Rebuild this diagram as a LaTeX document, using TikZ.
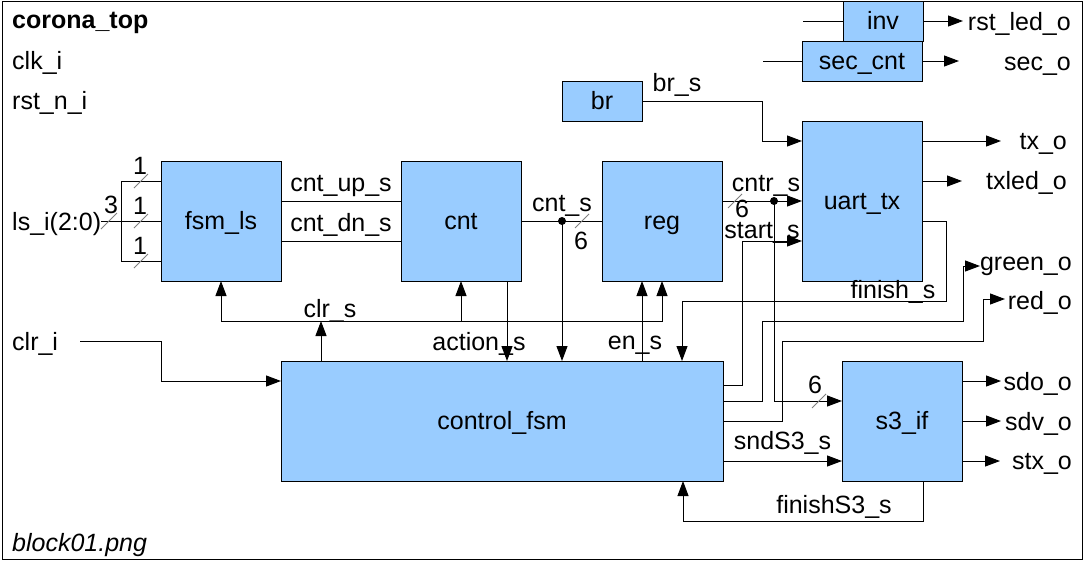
\documentclass[tikz,border=0pt]{standalone}
\usepackage{fontspec}
\setmainfont{Liberation Sans}
\usepackage{tikz}
\usetikzlibrary{arrows.meta, positioning, calc}
\definecolor{blkblue}{HTML}{99CCFF}
\newcommand{\diagfont}{\fontsize{25}{29}\selectfont}

\begin{document}
\begin{tikzpicture}[
  x=1pt, y=-1pt,
  block/.style={draw, fill=blkblue, line width=1pt, inner sep=0pt, outer sep=0pt,
    minimum width=120pt, minimum height=120pt, font=\diagfont,
    text height=17pt, text depth=0pt},
  lbl/.style={inner sep=0pt, font=\diagfont, anchor=base},
  wire/.style={line width=1pt},
  sig/.style={wire, -{Triangle[length=15pt, width=11pt]}},
  tick/.style={draw=gray, line width=0.8pt},
  node distance=120pt
]
\useasboundingbox (0,0) rectangle (1084,562);
\fill[white] (0,0) rectangle (1084,562);
\draw[line width=1pt] (2,1) rectangle (1082,559);

\node[block] (fsmls) at (221,221) {fsm\_ls};
\node[block, right=of fsmls] (cnt) {cnt};
\node[block, right=81pt of cnt] (reg) {reg};
\node[block, minimum height=160pt] (uart) at (862,201) {uart\_tx};
\node[block, minimum width=442pt] (control) at (502,421) {control\_fsm};
\node[block, right=119pt of control] (s3) {s3\_if};
\node[block, minimum width=80pt, minimum height=40pt] (br) at (602,101) {br};
\node[block, minimum width=80pt, minimum height=40pt] (inv) at (883,21) {inv};
\node[block, minimum height=40pt] (seccnt) at (862,61) {sec\_cnt};

\node[lbl, anchor=base west, font=\diagfont\bfseries] (title) at (12,28) {corona\_top};
\node[lbl, anchor=base west] (clki) at (12,69) {clk\_i};
\node[lbl, anchor=base west] (rstni) at (12,109) {rst\_n\_i};
\node[lbl, anchor=base west] (lsi) at (12,230) {ls\_i(2:0)};
\node[lbl, anchor=base west] (clri) at (12,350) {clr\_i};
\node[lbl, anchor=base west, font=\diagfont\itshape] (fname) at (12,551) {block01.png};

\node[lbl, anchor=base east] (orst) at (1071,30) {rst\_led\_o};
\node[lbl, anchor=base east] (osec) at (1071,70) {sec\_o};
\node[lbl, anchor=base east] (otx) at (1067,149) {tx\_o};
\node[lbl, anchor=base east] (otxled) at (1067,189) {txled\_o};
\node[lbl, anchor=base east] (ogreen) at (1072,270) {green\_o};
\node[lbl, anchor=base east] (ored) at (1072,309) {red\_o};
\node[lbl, anchor=base east] (osdo) at (1072,390) {sdo\_o};
\node[lbl, anchor=base east] (osdv) at (1072,430) {sdv\_o};
\node[lbl, anchor=base east] (ostx) at (1072,469) {stx\_o};

\coordinate (lsin) at (101,221);
\coordinate (clrin) at (80,341);
\coordinate (invin) at (803,21);
\coordinate (secin) at (763,61);
\coordinate (rsttip) at (963,21);
\coordinate (sectip) at (959,61);
\coordinate (txtip) at (1001,141);
\coordinate (txledtip) at (962,181);
\coordinate (greentip) at (980,266);
\coordinate (redtip) at (1005,299);
\coordinate (sdotip) at (1001,381);
\coordinate (sdvtip) at (1001,421);
\coordinate (stxtip) at (1000,461);
\coordinate (cntdot) at ([xshift=41pt]cnt.east);
\coordinate (cntrsrc) at (reg.east |- uart.west);
\coordinate (cntrdot) at ([xshift=-28pt]uart.west);
\coordinate (clrbus) at ([xshift=-181pt,yshift=40pt]control.north);
\coordinate (actsrc) at ([xshift=46pt]cnt.south);
\coordinate (ensink) at ([xshift=-20pt]reg.south);

\draw[wire] (lsin) -- (fsmls.west);
\draw[wire] ([yshift=40pt]fsmls.west) -| ([xshift=-40pt,yshift=-40pt]fsmls.west)
  -- ([yshift=-40pt]fsmls.west);
\draw[tick] ([xshift=8pt]lsin) ++(-8,8) -- ++(16,-16);
\node[lbl] (w3) at (111,213) {3};
\foreach \dy/\nm in {40/a, 0/b, -40/c} {
  \draw[tick] ([xshift=-20pt,yshift=\dy pt]fsmls.west) ++(-7,7) -- ++(14,-14);
  \node[lbl, yshift=7pt] (w1\nm) at ([xshift=-21pt,yshift=\dy pt]fsmls.west) {1};
}

\draw[wire] ([yshift=20pt]fsmls.east) -- ([yshift=20pt]cnt.west)
  node[lbl, midway, yshift=10pt] (lcntup) {cnt\_up\_s};
\draw[wire] ([yshift=-20pt]fsmls.east) -- ([yshift=-20pt]cnt.west)
  node[lbl, midway, yshift=10pt] (lcntdn) {cnt\_dn\_s};

\draw[wire] (cnt.east) -- (reg.west);
\fill (cntdot) circle (4);
\draw[sig] (cntdot) -- (cntdot |- control.north);
\node[lbl, yshift=10pt] (lcnts) at (cntdot) {cnt\_s};
\draw[tick] ([xshift=20pt]cntdot) ++(-7,7) -- ++(14,-14);
\node[lbl] (wcnt) at ([xshift=19pt,yshift=-28pt]cntdot) {6};

\draw[sig] (cntrsrc) -- (uart.west)
  node[lbl, midway, xshift=4pt, yshift=10pt] (lcntrs) {cntr\_s};
\fill (cntrdot) circle (4);
\draw[sig] (cntrdot) |- ([yshift=20pt]s3.west);
\draw[tick] ([xshift=13pt]cntrsrc) ++(-7,7) -- ++(14,-14);
\node[lbl] (wcntr) at ([xshift=20pt,yshift=-16pt]cntrsrc) {6};
\draw[tick] ([xshift=-23pt,yshift=20pt]s3.west) ++(-7,7) -- ++(14,-14);
\node[lbl] (ws3) at ([xshift=-27pt,yshift=28pt]s3.west) {6};

\draw[sig] ([yshift=36pt]control.east) -- ++(19,0) |- ([yshift=-40pt]uart.west);
\node[lbl] (lstart) at (762,238) {start\_s};
\draw[sig] ([yshift=20pt]control.east) -- ++(39,0) -- ++(0,-80)
  -| ([xshift=-17pt]greentip) -- (greentip);
\draw[sig] (control.east) -- ++(59,0) -- ++(0,-80)
  -| ([xshift=-22pt]redtip) -- (redtip);

\draw[sig] ([yshift=-20pt]uart.east) -- ++(24,0) -- ++(0,80)
  -| ([xshift=180pt]control.north);
\node[lbl] (lfinish) at (893,298) {finish\_s};
\draw[sig] (br.east) -- ++(120,0) |- ([yshift=60pt]uart.west);
\node[lbl] (lbrs) at (677,91) {br\_s};

\draw[sig] ([xshift=-181pt]control.north) -- (clrbus);
\draw[sig] (clrbus) -| (fsmls.south);
\draw[sig] (clrbus) -| (cnt.south);
\draw[sig] (clrbus) -| (reg.south);
\node[lbl] (lclrs) at (330,317) {clr\_s};
\draw[sig] (actsrc) -- (actsrc |- control.north);
\node[lbl] (laction) at (479,350) {action\_s};
\draw[sig] (ensink |- control.north) -- (ensink);
\node[lbl] (len) at (635,349) {en\_s};

\draw[sig] (clrin) -- ++(81,0) |- ([yshift=40pt]control.west);
\draw[sig] ([yshift=-40pt]control.east) -- ([yshift=-40pt]s3.west)
  node[lbl, midway, yshift=12pt] (lsnd) {sndS3\_s};
\draw[sig] ([xshift=21pt]s3.south) -- ++(0,40) -| ([xshift=181pt]control.south);
\node[lbl] (lfins3) at (834,513) {finishS3\_s};

\draw[wire] (invin) -- (inv.west);
\draw[sig] (inv.east) -- (rsttip);
\draw[wire] (secin) -- (seccnt.west);
\draw[sig] (seccnt.east) -- (sectip);
\draw[sig] (uart.east |- txtip) -- (txtip);
\draw[sig] (uart.east |- txledtip) -- (txledtip);
\draw[sig] (s3.east |- sdotip) -- (sdotip);
\draw[sig] (s3.east |- sdvtip) -- (sdvtip);
\draw[sig] (s3.east |- stxtip) -- (stxtip);
\end{tikzpicture}
\end{document}
